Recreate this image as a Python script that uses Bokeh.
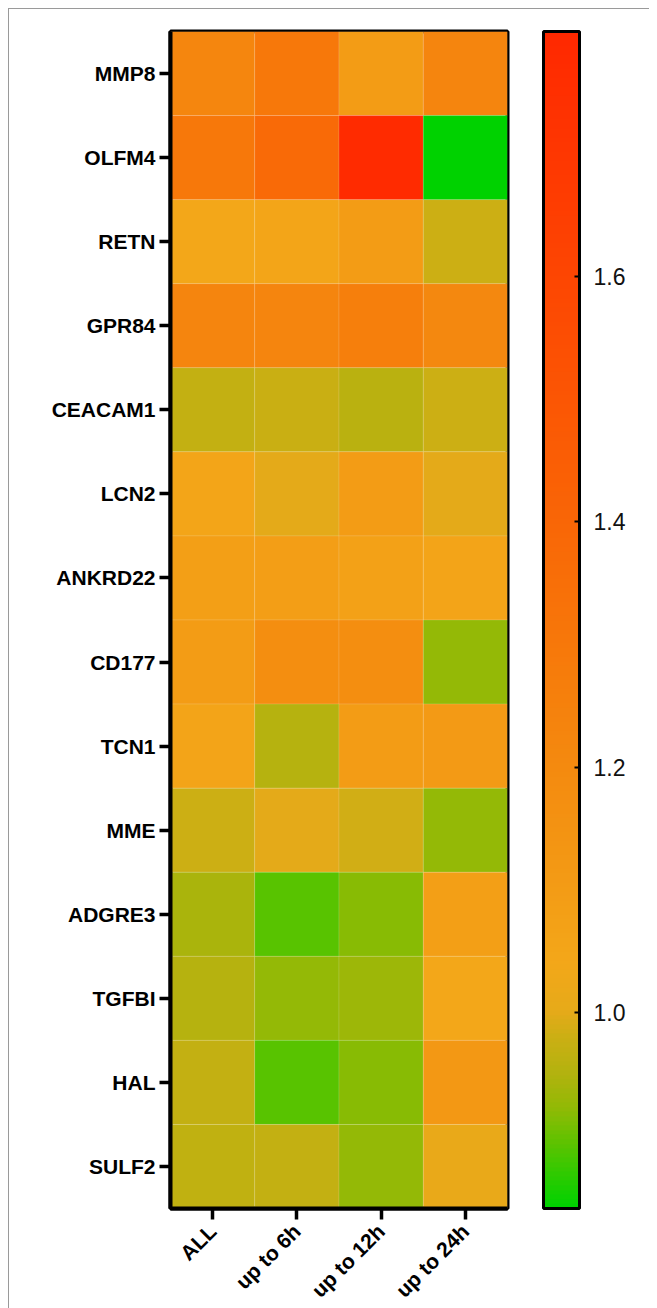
import numpy as np
from bokeh.plotting import figure
from bokeh.models import ColumnDataSource, LinearColorMapper, ColorBar, FixedTicker, FactorRange, PrintfTickFormatter
from bokeh.embed import file_html
from bokeh.resources import INLINE

genes = ["MMP8", "OLFM4", "RETN", "GPR84", "CEACAM1", "LCN2", "ANKRD22",
         "CD177", "TCN1", "MME", "ADGRE3", "TGFBI", "HAL", "SULF2"]
groups = ["ALL", "up to 6h", "up to 12h", "up to 24h"]

val_all = [1.22, 1.30, 1.04, 1.23, 0.970, 1.05, 1.08, 1.10, 1.06, 0.980, 0.945, 0.955, 0.970, 0.965]
val_6h  = [1.30, 1.38, 1.05, 1.23, 0.975, 1.00, 1.09, 1.18, 0.955, 1.00, 0.890, 0.925, 0.890, 0.970]
val_12h = [1.10, 1.78, 1.10, 1.26, 0.960, 1.10, 1.07, 1.18, 1.10, 0.985, 0.915, 0.930, 0.915, 0.925]
val_24h = [1.23, 0.84, 0.980, 1.21, 0.980, 1.00, 1.06, 0.925, 1.11, 0.925, 1.08, 1.04, 1.12, 1.01]

cb_ticks = [1.0, 1.2, 1.4, 1.6]
low, high = 0.84, 1.80

# palette (style): interpolate anchor colours
anchors_v = [0.84, 0.89, 0.92, 0.95, 0.98, 1.00, 1.04, 1.12, 1.20, 1.30, 1.40, 1.60, 1.80]
anchors_c = [(0, 210, 0), (90, 195, 0), (145, 186, 5), (180, 178, 15), (205, 175, 20),
             (230, 170, 25), (243, 167, 25), (243, 152, 20), (244, 138, 15), (247, 120, 10),
             (249, 102, 6), (253, 70, 2), (255, 40, 0)]
vs = np.linspace(low, high, 256)
pal = []
for v in vs:
    r = np.interp(v, anchors_v, [c[0] for c in anchors_c])
    g = np.interp(v, anchors_v, [c[1] for c in anchors_c])
    b = np.interp(v, anchors_v, [c[2] for c in anchors_c])
    pal.append("#%02x%02x%02x" % (int(round(r)), int(round(g)), int(round(b))))

xs, ys, vals = [], [], []
for col, series in zip(groups, [val_all, val_6h, val_12h, val_24h]):
    for gname, v in zip(genes, series):
        xs.append(col); ys.append(gname); vals.append(v)
src = ColumnDataSource(dict(x=xs, y=ys, v=vals))

mapper = LinearColorMapper(palette=pal, low=low, high=high)

FW, FH = 337, 1177
p = figure(x_range=FactorRange(*groups), y_range=FactorRange(*genes[::-1]),
           frame_width=FW, frame_height=FH,
           min_border_left=170, min_border_top=31, min_border_bottom=92, min_border_right=142,
           output_backend="svg", toolbar_location=None)
p.border_fill_color = None
p.styles = {
    "background": "linear-gradient(#9a9a9a,#9a9a9a) 8px 8px / 1px 100% no-repeat, "
                  "linear-gradient(#9a9a9a,#9a9a9a) 8px 8px / 100% 1px no-repeat, #ffffff",
}

p.rect(x="x", y="y", width=1, height=1, source=src,
       fill_color={"field": "v", "transform": mapper},
       line_color="white", line_alpha=0.12, line_width=1)

p.grid.visible = False
p.outline_line_color = "black"
p.outline_line_width = 4
p.x_range.range_padding = 0
p.y_range.range_padding = 0

for ax in (p.xaxis[0], p.yaxis[0]):
    ax.axis_line_color = "black"
    ax.axis_line_width = 4
    ax.major_tick_line_color = "black"
    ax.major_tick_line_width = 3.5
    ax.major_tick_out = 11
    ax.major_tick_in = 0
    ax.minor_tick_line_color = None
    ax.major_label_text_font = "Liberation Sans"
    ax.major_label_text_font_style = "bold"
    ax.major_label_text_font_size = "21px"
    ax.major_label_text_color = "black"
    ax.major_label_standoff = 4

p.xaxis.major_label_orientation = np.pi / 4
p.xaxis.major_label_standoff = 8

cb = ColorBar(color_mapper=mapper, ticker=FixedTicker(ticks=cb_ticks),
              formatter=PrintfTickFormatter(format="%.1f"),
              width=36, height=FH, margin=0, padding=0,
              location=(FW + 36, 0),
              bar_line_color="black", bar_line_width=3,
              major_tick_line_color="black", major_tick_line_width=2,
              major_tick_in=5, major_tick_out=0,
              minor_tick_line_color=None,
              major_label_text_font="Liberation Sans",
              major_label_text_font_size="23px",
              major_label_text_color="#111111",
              label_standoff=14,
              border_line_color=None, background_fill_alpha=0)
p.add_layout(cb)

open("out.html", "w").write(file_html(p, INLINE))
